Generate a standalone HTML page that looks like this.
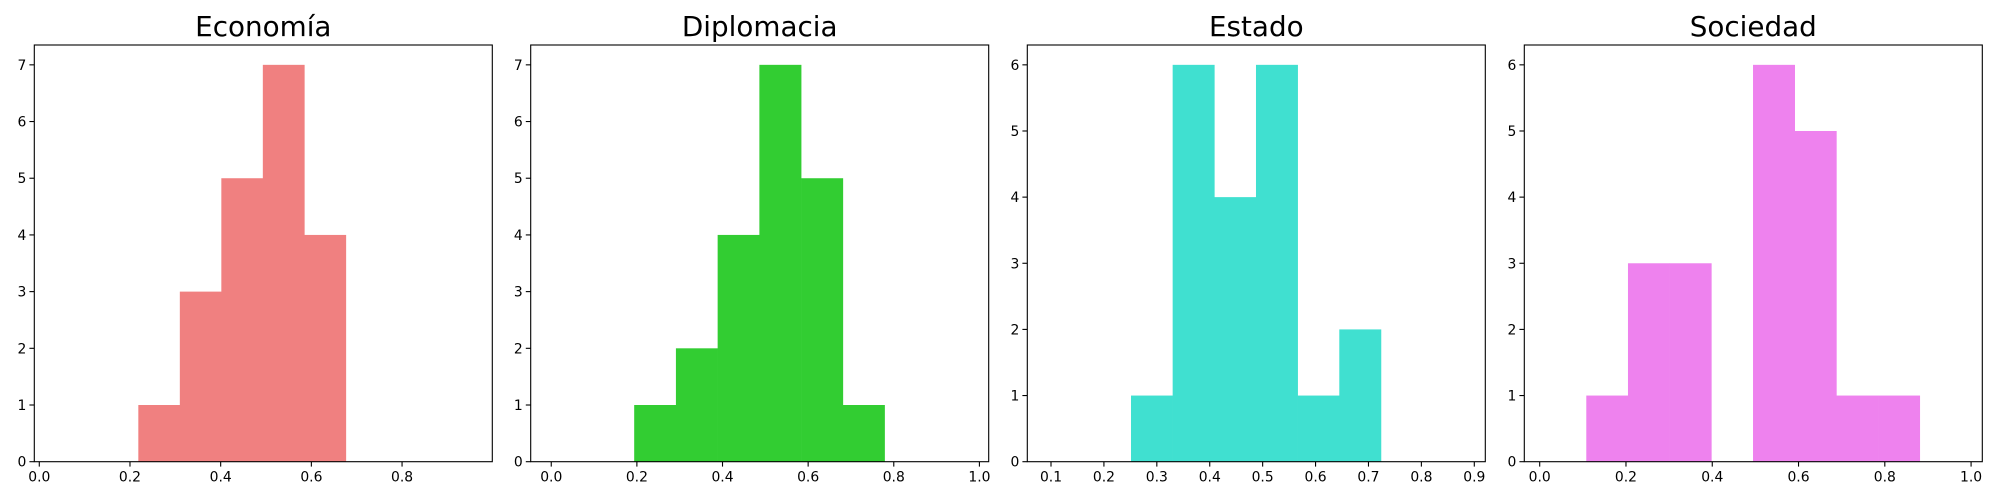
<!DOCTYPE html>
<html><head><meta charset="utf-8"><style>
html,body{margin:0;padding:0;background:#fff;}
svg{display:block;font-family:"DejaVu Sans","Liberation Sans",sans-serif;}
</style></head><body>
<svg id="fig" width="2000" height="500" viewBox="0 0 2000 500" xmlns="http://www.w3.org/2000/svg"></svg>
<script>
const titles = ["Economía", "Diplomacia", "Estado", "Sociedad"];
const colors = ["#f08080", "#32cd32", "#40e0d0", "#ee82ee"];
const binStarts = [0.2184, 0.1937, 0.2512, 0.108];
const binEnds = [0.676, 0.7785, 0.7236, 0.881];
const countsEconomia = [1, 3, 5, 7, 4];
const countsDiplomacia = [1, 2, 4, 7, 5, 1];
const countsEstado = [1, 6, 4, 6, 1, 2];
const countsSociedad = [1, 3, 3, 0, 6, 5, 1, 1];
const xTicksA = [0.0, 0.2, 0.4, 0.6, 0.8];
const xTicksB = [0.0, 0.2, 0.4, 0.6, 0.8, 1.0];
const xTicksC = [0.1, 0.2, 0.3, 0.4, 0.5, 0.6, 0.7, 0.8, 0.9];
const xLims = [[-0.011, 0.999], [-0.048, 1.0217], [0.0552, 0.9208], [-0.0357, 1.026]];
const yMax = [7.35, 7.35, 6.3, 6.3];

const allCounts = [countsEconomia, countsDiplomacia, countsEstado, countsSociedad];
const allXTicks = [xTicksA, xTicksB, xTicksC, xTicksB];
const panelLeft = [34.3, 530.7, 1027.3, 1524.3];
const panelW = 458;
const plotTop = 45, plotBottom = 461.7;
const NS = "http://www.w3.org/2000/svg";
const svg = document.getElementById('fig');
function mk(tag, attrs, parent) {
  const e = document.createElementNS(NS, tag);
  for (const k in attrs) e.setAttribute(k, attrs[k]);
  (parent || svg).appendChild(e);
  return e;
}
for (let p = 0; p < 4; p++) {
  const g = mk('g', {});
  
  
  const L = panelLeft[p];
  const x0 = xLims[p][0], x1 = xLims[p][1];
  const sx = v => L + (v - x0) / (x1 - x0) * panelW;
  const sy = v => plotBottom - v / yMax[p] * (plotBottom - plotTop);
  const counts = allCounts[p];
  const bw = (binEnds[p] - binStarts[p]) / counts.length;
  counts.forEach((c, i) => {
    if (c <= 0) return;
    const a = sx(binStarts[p] + i * bw), b = sx(binStarts[p] + (i + 1) * bw);
    const r = mk('rect', {x: a, y: sy(c), width: b - a + 0.3, height: plotBottom - sy(c), fill: colors[p]}, g);
    
    
  });
  const frame = mk('rect', {x: L, y: plotTop, width: panelW, height: plotBottom - plotTop, fill: 'none', stroke: '#000', 'stroke-width': 1.1}, g);
  
  
  allXTicks[p].forEach(t => {
    const x = sx(t);
    mk('line', {x1: x, x2: x, y1: plotBottom, y2: plotBottom + 4.9, stroke: '#000', 'stroke-width': 1.1}, g);
    const tx = mk('text', {x: x, y: plotBottom + 20, 'font-size': 13.9, 'text-anchor': 'middle', fill: '#000'}, g);
    tx.textContent = t.toFixed(1);
    
    
  });
  const ymaxInt = Math.floor(yMax[p]);
  for (let v = 0; v <= ymaxInt; v++) {
    const y = sy(v);
    mk('line', {x1: L - 4.9, x2: L, y1: y, y2: y, stroke: '#000', 'stroke-width': 1.1}, g);
    const ty = mk('text', {x: L - 8, y: y + 5, 'font-size': 13.9, 'text-anchor': 'end', fill: '#000'}, g);
    ty.textContent = v;
    
    
  }
  const tt = mk('text', {x: L + panelW / 2, y: 36, 'font-size': 27.8, 'text-anchor': 'middle', fill: '#000'}, g);
  tt.textContent = titles[p];
  
  
}
</script>
</body></html>
